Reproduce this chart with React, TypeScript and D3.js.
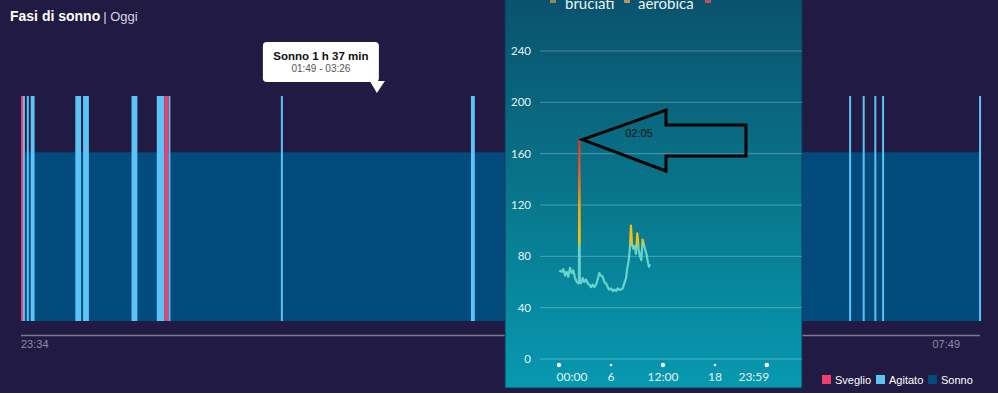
import React from 'react';
import * as d3 from 'd3';

// --- sleep stages (Fasi di sonno) ---
const sleepStart = '23:34';
const sleepEnd = '07:49';
const svegliaStarts = ['23:34', '00:48'];
const svegliaEnds = ['23:35', '00:50'];
const agitatoStarts = ['23:35', '23:37', '23:39', '00:02', '00:06', '00:31', '00:44', '00:50', '01:48', '03:26', '06:41', '06:48', '06:54', '06:58', '07:48'];
const agitatoEnds = ['23:36', '23:38', '23:41', '00:05', '00:09', '00:34', '00:48', '00:51', '01:49', '03:28', '06:42', '06:49', '06:55', '06:59', '07:49'];
const tipFrom = '01:49';
const tipTo = '03:26';
const legendLabels = ['Sveglio', 'Agitato', 'Sonno'];

// --- heart rate screenshot ---
const hrTimes = ['00:02', '00:19', '00:30', '00:42', '00:53', '01:04', '01:16', '01:28', '01:39', '01:51', '02:03', '02:14', '02:18', '02:21', '02:24',
  '02:32', '02:44', '02:55', '03:07', '03:19', '03:30', '03:42', '03:53', '04:04', '04:16', '04:28', '04:39', '04:51', '05:03', '05:14', '05:25',
  '05:37', '05:48', '06:00', '06:12', '06:23', '06:35', '06:46', '06:57', '07:09', '07:21', '07:32', '07:44', '07:53', '08:03', '08:12', '08:18',
  '08:25', '08:34', '08:44', '08:53', '09:02', '09:12', '09:21', '09:30', '09:39', '09:48', '09:57', '10:07', '10:16', '10:23', '10:30'];
const hrValues = [69, 68, 70, 65, 68, 64, 71, 67, 69, 63, 60, 59, 59, 171, 60,
  59, 63, 60, 62, 59, 58, 56, 58, 56, 58, 62, 67, 65, 64, 60, 59,
  56, 54, 55, 53, 54, 53, 55, 54, 54, 55, 59, 63, 71, 77, 88, 104,
  90, 86, 88, 82, 98, 85, 80, 77, 93, 89, 85, 81, 75, 72, 74];
const hrYTicks = [0, 40, 80, 120, 160, 200, 240];
const hrXTicks = [0, 360, 720, 1080, 1439];
const hrXLabels = ['00:00', '6', '12:00', '18', '23:59'];
const hrLegend = ['bruciati', 'aerobica'];
const arrowLabel = '02:05';

const BG = '#211a42';
const C_SVEGLIO = '#ef3f6e';
const C_AGITATO = '#5bc3f6';
const C_SONNO = '#034a7d';

const toMin = (s: string) => {
  const [h, m] = s.split(':').map(Number);
  return h * 60 + m;
};
// sleep times: evening belongs to the first day
const toDate = (s: string) => {
  const [h, m] = s.split(':').map(Number);
  return new Date(2024, 0, h >= 12 ? 1 : 2, h, m);
};

export default function App() {
  const W = 998;
  const H = 393;

  const x = d3.scaleTime().domain([toDate(sleepStart), toDate(sleepEnd)]).range([21, 981]);
  const barTop = 96;
  const bandTop = 152;
  const bandBottom = 321;

  // heart-rate panel
  const ph = { x0: 505, x1: 802, y1: 388 };
  const hx = d3.scaleLinear().domain([0, 1440]).range([559, 767]);
  const hy = d3.scaleLinear().domain([0, 240]).range([359, 51]);
  const hrData = hrTimes.map((t, i) => ({ t: toMin(t), v: hrValues[i] }));
  const hrLine = d3.line<{ t: number; v: number }>().x(d => hx(d.t)).y(d => hy(d.v));

  const tipMid = x(new Date((toDate(tipFrom).getTime() + toDate(tipTo).getTime()) / 2));
  const durMin = (toDate(tipTo).getTime() - toDate(tipFrom).getTime()) / 60000;
  const tipTitle = `Sonno ${Math.floor(durMin / 60)} h ${durMin % 60} min`;

  const legendColors = [C_SVEGLIO, C_AGITATO, C_SONNO];
  const legendX = [822, 876, 928];

  // arrow outline pointing at the spike
  const tipX = hx(toMin('02:21')) + 3;
  const tipY = hy(171);
  const arrow = [
    [tipX, tipY], [666, 110], [666, 125], [746, 125], [746, 156], [666, 156], [666, 171],
  ].map(p => p.join(',')).join(' ');

  const sans = '"Liberation Sans", Arial, sans-serif';
  const phoneFont = 'Lato, "Open Sans", sans-serif';

  return (
    <svg width={W} height={H} style={{ position: 'absolute', left: 0, top: 0 }} fontFamily={sans}>
      <defs>
        <linearGradient id="phone-bg" x1="0" y1="0" x2="0" y2="1">
          <stop offset="0%" stopColor="#0a526d" />
          <stop offset="55%" stopColor="#08798f" />
          <stop offset="100%" stopColor="#0799b1" />
        </linearGradient>
        <linearGradient id="hr-grad" gradientUnits="userSpaceOnUse" x1="0" x2="0" y1={hy(0)} y2={hy(240)}>
          <stop offset={86 / 240} stopColor="#66d4c8" />
          <stop offset={93 / 240} stopColor="#f6c20a" />
          <stop offset={115 / 240} stopColor="#f7b012" />
          <stop offset={140 / 240} stopColor="#f06a24" />
          <stop offset={172 / 240} stopColor="#e42c2a" />
        </linearGradient>
      </defs>
      <rect width={W} height={H} fill={BG} />

      {/* title */}
      <text x={10} y={21} fill="#ffffff" fontSize={14} fontWeight="bold">
        Fasi di sonno
        <tspan fontWeight="normal" fontSize={13} fill="#d6d4e6" dx={3}>| Oggi</tspan>
      </text>

      {/* sonno band */}
      <rect x={x(toDate(sleepStart))} y={bandTop} width={x(toDate(sleepEnd)) - x(toDate(sleepStart))}
        height={bandBottom - bandTop} fill={C_SONNO} />
      <line x1={x(toDate(sleepStart))} x2={x(toDate(sleepEnd))} y1={bandTop + 0.5} y2={bandTop + 0.5} stroke="#0a3d6c" />

      {agitatoStarts.map((s, i) => {
        const a = x(toDate(s));
        const b = x(toDate(agitatoEnds[i]));
        return <rect key={'a' + i} x={a} y={barTop} width={Math.max(b - a, 2)} height={bandBottom - barTop} fill={C_AGITATO} />;
      })}
      {svegliaStarts.map((s, i) => {
        const a = x(toDate(s));
        const b = x(toDate(svegliaEnds[i]));
        return <rect key={'s' + i} x={a} y={barTop} width={Math.max(b - a, 2)} height={bandBottom - barTop} fill={C_SVEGLIO} />;
      })}

      {/* axis */}
      <line x1={21} x2={980} y1={335.5} y2={335.5} stroke="#7a7791" strokeWidth={1.5} />
      <text x={21} y={348} fill="#8e8ca6" fontSize={11}>{sleepStart}</text>
      <text x={960} y={348} fill="#8e8ca6" fontSize={11} textAnchor="end">{sleepEnd}</text>

      {/* tooltip */}
      <g>
        <rect x={tipMid - 114} y={42} width={116} height={40} rx={4} fill="#ffffff" />
        <polygon points={`${tipMid - 7},81 ${tipMid + 8},81 ${tipMid},93`} fill="#ffffff" />
        <text x={tipMid - 56} y={60} textAnchor="middle" fontSize={11.5} fontWeight="bold" fill="#111">{tipTitle}</text>
        <text x={tipMid - 56} y={72} textAnchor="middle" fontSize={10} fill="#555">{`${tipFrom} - ${tipTo}`}</text>
      </g>

      {/* legend */}
      {legendLabels.map((l, i) => (
        <g key={l}>
          <rect x={legendX[i]} y={375} width={9} height={9} fill={legendColors[i]} />
          <text x={legendX[i] + 13} y={384} fontSize={11} fill="#ffffff">{l}</text>
        </g>
      ))}

      {/* heart rate screenshot */}
      <g fontFamily={phoneFont}>
        <rect x={ph.x0} y={-1} width={ph.x1 - ph.x0} height={ph.y1 + 1} fill="url(#phone-bg)" stroke="#0b3a55" strokeWidth={1} />
        {[553, 627, 708].map((cx, i) => (
          <rect key={cx} x={cx - 3} y={-3} width={6} height={6} fill={['#8f8c55', '#b39260', '#b55555'][i]} />
        ))}
        {hrLegend.map((l, i) => (
          <text key={l} x={[565, 638][i]} y={9} fontSize={15} fill="#e8f4f4">{l}</text>
        ))}
        {hrYTicks.map(v => (
          <g key={v}>
            <line x1={540} x2={ph.x1} y1={hy(v)} y2={hy(v)} stroke="#ffffff" strokeOpacity={0.28} />
            <text x={531} y={hy(v) + 4} textAnchor="end" fontSize={11.5} fill="#e6f3f4">{v}</text>
          </g>
        ))}
        {hrXTicks.map((t, i) => (
          <g key={t}>
            <circle cx={hx(t)} cy={365} r={i % 2 === 0 ? 2.2 : 1.3} fill="#ffffff" />
            <text x={hx(t) + (i === 0 ? 13 : i === 4 ? -13 : 0)} y={381} textAnchor="middle" fontSize={12} fill="#e6f3f4">{hrXLabels[i]}</text>
          </g>
        ))}
        <path d={hrLine(hrData) ?? ''} fill="none" stroke="url(#hr-grad)" strokeWidth={2.2} strokeLinejoin="round" />

        {/* arrow annotation */}
        <polygon points={arrow} fill="none" stroke="#000000" strokeWidth={3} strokeLinejoin="miter" />
        <text x={639} y={137} textAnchor="middle" fontSize={11} fill="#111" fontFamily={sans}>{arrowLabel}</text>
      </g>
    </svg>
  );
}
